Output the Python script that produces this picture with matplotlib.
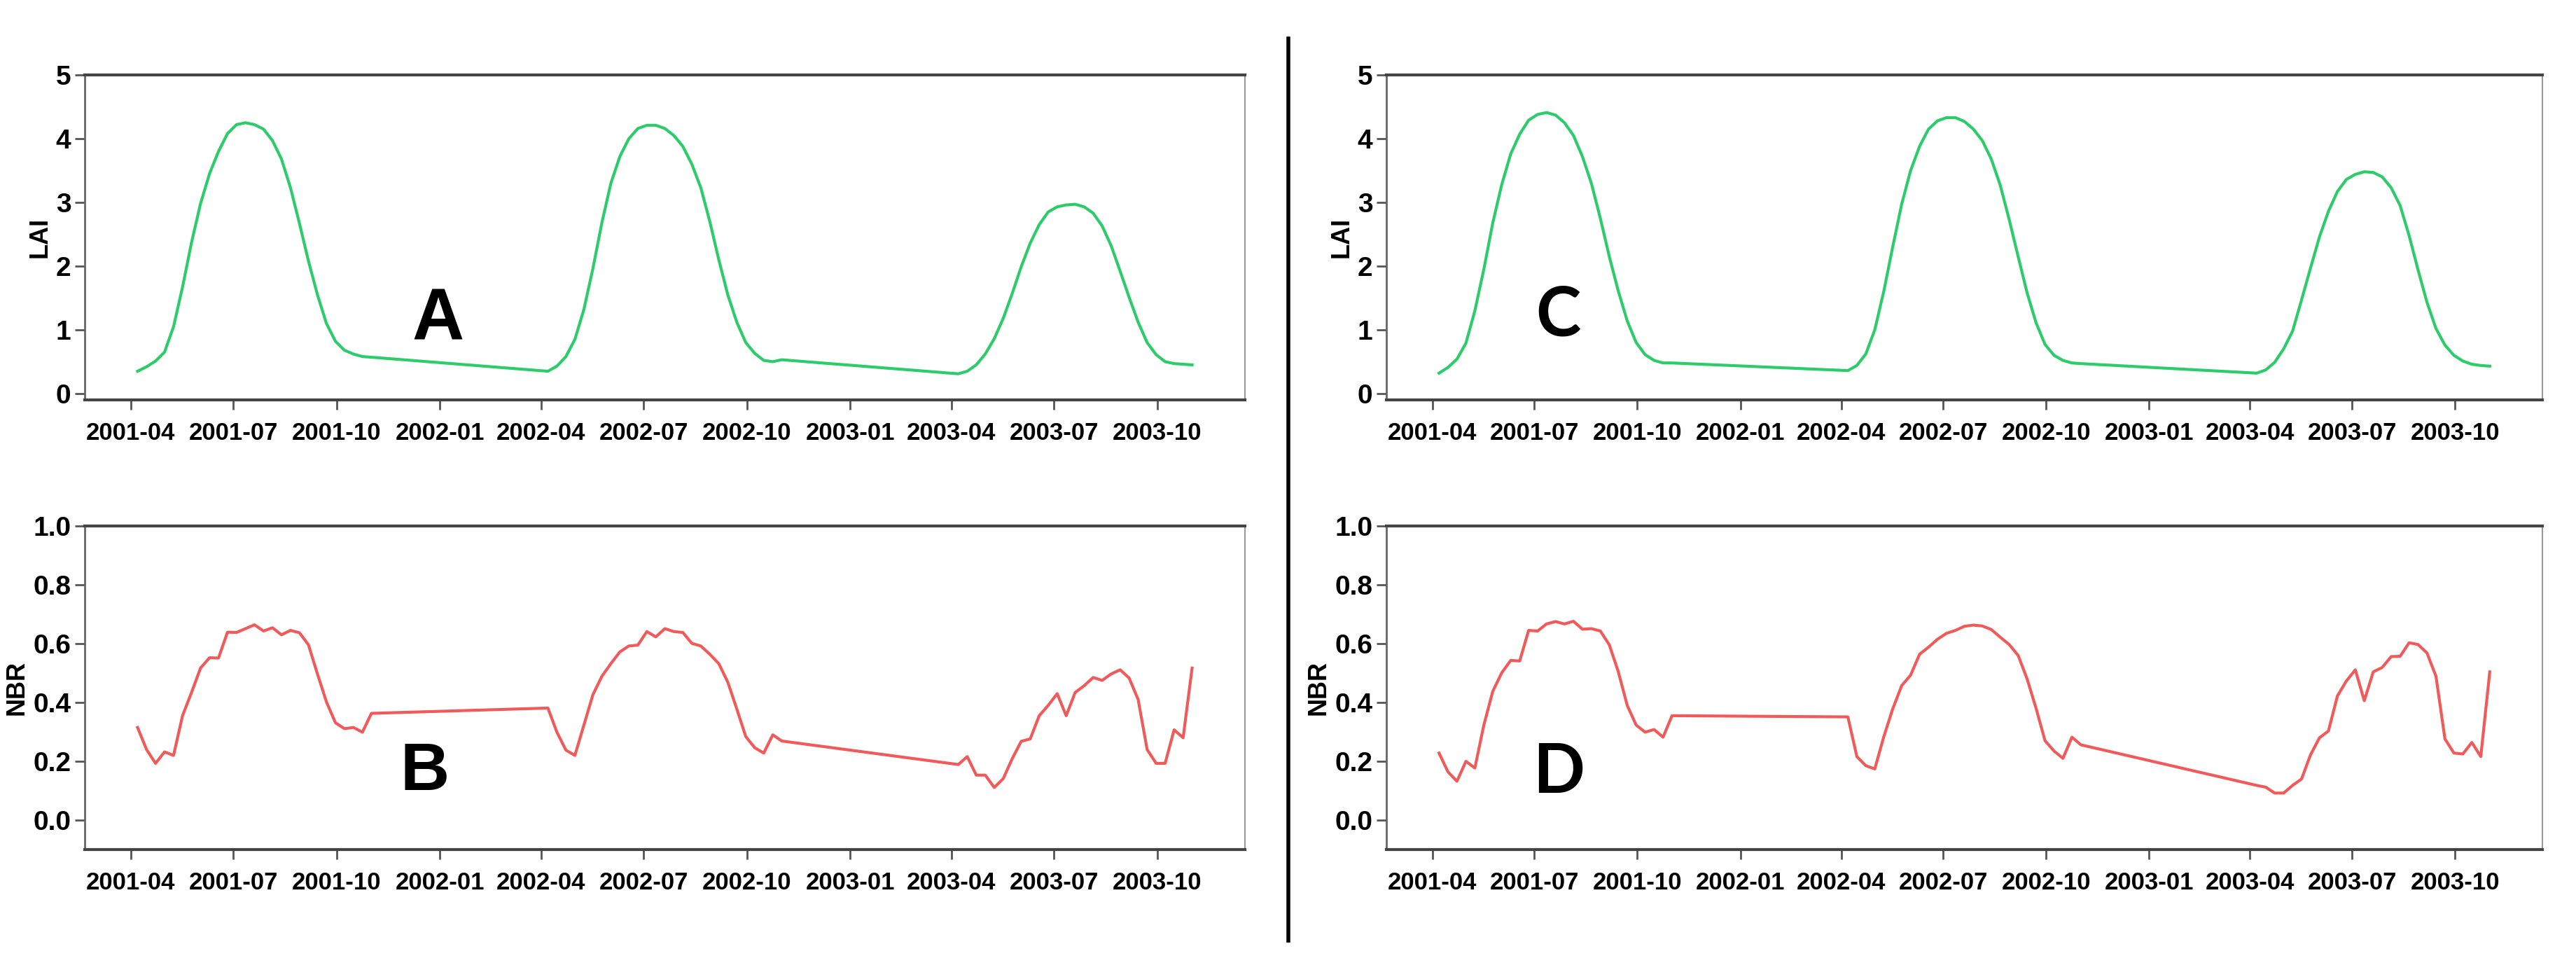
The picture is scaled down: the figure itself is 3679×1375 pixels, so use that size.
import numpy as np
import pandas as pd
import matplotlib
matplotlib.use('Agg')
import matplotlib.pyplot as plt
import matplotlib.dates as mdates
from matplotlib.lines import Line2D

# 8-day composite dates (day of year) for each growing season
years = [2001, 2002, 2003]
doy = [97, 105, 113, 121, 129, 137, 145, 153, 161, 169, 177, 185, 193, 201,
       209, 217, 225, 233, 241, 249, 257, 265, 273, 281, 289, 297, 305]

# LAI, panel A
lai_a_2001 = [0.35, 0.42, 0.51, 0.65, 1.05, 1.67, 2.37, 2.98, 3.45, 3.80, 4.08, 4.22, 4.25, 4.22,
              4.15, 3.97, 3.68, 3.23, 2.67, 2.08, 1.55, 1.10, 0.82, 0.68, 0.62, 0.58, 0.57]
lai_a_2002 = [0.35, 0.43, 0.58, 0.85, 1.32, 1.96, 2.68, 3.30, 3.72, 4.00, 4.16, 4.21, 4.21, 4.16,
              4.05, 3.88, 3.60, 3.23, 2.70, 2.10, 1.55, 1.12, 0.80, 0.63, 0.52, 0.50, 0.53]
lai_a_2003 = [0.31, 0.35, 0.45, 0.62, 0.86, 1.18, 1.57, 1.99, 2.36, 2.65, 2.85, 2.93, 2.96, 2.97,
              2.93, 2.83, 2.63, 2.32, 1.92, 1.51, 1.12, 0.80, 0.61, 0.50, 0.47, 0.46, 0.45]

# LAI, panel C
lai_c_2001 = [0.32, 0.41, 0.54, 0.79, 1.30, 1.95, 2.68, 3.28, 3.76, 4.07, 4.29, 4.38, 4.41, 4.37,
              4.25, 4.05, 3.72, 3.30, 2.75, 2.15, 1.61, 1.14, 0.80, 0.61, 0.52, 0.48, 0.48]
lai_c_2002 = [0.36, 0.44, 0.62, 1.00, 1.60, 2.30, 2.97, 3.50, 3.88, 4.15, 4.28, 4.33, 4.33, 4.27,
              4.15, 3.97, 3.68, 3.27, 2.73, 2.15, 1.58, 1.11, 0.77, 0.60, 0.52, 0.48, 0.47]
lai_c_2003 = [0.32, 0.37, 0.49, 0.70, 0.98, 1.47, 1.97, 2.46, 2.86, 3.17, 3.36, 3.44, 3.48, 3.47,
              3.40, 3.23, 2.95, 2.48, 1.94, 1.43, 1.02, 0.76, 0.60, 0.51, 0.46, 0.44, 0.43]

# NBR, panel B
nbr_b_2001 = [0.315, 0.24, 0.193, 0.232, 0.22, 0.355, 0.434, 0.517, 0.552, 0.551, 0.639, 0.638, 0.651, 0.664,
              0.643, 0.654, 0.63, 0.645, 0.637, 0.596, 0.497, 0.402, 0.331, 0.311, 0.315, 0.299, 0.363]
nbr_b_2002 = [0.381, 0.299, 0.238, 0.22, 0.323, 0.426, 0.489, 0.532, 0.572, 0.592, 0.595, 0.641, 0.623, 0.651,
              0.641, 0.638, 0.601, 0.592, 0.564, 0.532, 0.469, 0.378, 0.284, 0.246, 0.228, 0.29, 0.269]
nbr_b_2003 = [0.189, 0.216, 0.153, 0.153, 0.111, 0.141, 0.209, 0.268, 0.276, 0.355, 0.39, 0.43, 0.355, 0.434,
              0.457, 0.485, 0.475, 0.497, 0.511, 0.483, 0.41, 0.24, 0.193, 0.193, 0.307, 0.28, 0.517]

# NBR, panel D
nbr_d_2001 = [0.228, 0.164, 0.132, 0.2, 0.177, 0.323, 0.438, 0.501, 0.543, 0.541, 0.645, 0.643, 0.667, 0.675,
              0.667, 0.676, 0.649, 0.651, 0.643, 0.596, 0.505, 0.39, 0.323, 0.299, 0.308, 0.282, 0.355]
nbr_d_2002 = [0.351, 0.216, 0.185, 0.174, 0.283, 0.378, 0.457, 0.493, 0.564, 0.588, 0.615, 0.635, 0.645, 0.659,
              0.663, 0.66, 0.648, 0.622, 0.597, 0.56, 0.48, 0.38, 0.27, 0.235, 0.21, 0.282, 0.256]
nbr_d_2003 = [0.118, 0.112, 0.092, 0.092, 0.118, 0.14, 0.222, 0.28, 0.303, 0.422, 0.473, 0.511, 0.406, 0.504,
              0.519, 0.556, 0.557, 0.603, 0.597, 0.568, 0.489, 0.276, 0.228, 0.225, 0.264, 0.216, 0.504]

dates = pd.to_datetime([f'{y}-{d:03d}' for y in years for d in doy], format='%Y-%j')
lai_a = lai_a_2001 + lai_a_2002 + lai_a_2003
lai_c = lai_c_2001 + lai_c_2002 + lai_c_2003
nbr_b = nbr_b_2001 + nbr_b_2002 + nbr_b_2003
nbr_d = nbr_d_2001 + nbr_d_2002 + nbr_d_2003

green = '#2dcc6a'
red = '#f05a5a'
tick_font = ['Liberation Sans', 'DejaVu Sans']

W, H = 3680, 1375
fig = plt.figure(figsize=(W / 100, H / 100), dpi=100)


def px_axes(l, t, r, b):
    return fig.add_axes([l / W, 1 - b / H, (r - l) / W, (b - t) / H])


def style(ax, ylabel, yticks, yfmt):
    ax.set_xlim(pd.Timestamp('2001-02-19'), pd.Timestamp('2003-12-18'))
    ax.xaxis.set_major_locator(mdates.MonthLocator(bymonth=[1, 4, 7, 10]))
    ax.xaxis.set_major_formatter(mdates.DateFormatter('%Y-%m'))
    ax.set_yticks(yticks)
    ax.set_yticklabels([yfmt.format(v) for v in yticks])
    ax.tick_params(axis='both', direction='out', length=10, width=2, color='#555555')
    ax.tick_params(axis='x', pad=12)
    ax.tick_params(axis='y', pad=4)
    for lab in ax.get_xticklabels():
        lab.set_fontfamily(tick_font)
        lab.set_fontweight('bold')
        lab.set_fontsize(25)
    for lab in ax.get_yticklabels():
        lab.set_fontfamily(tick_font)
        lab.set_fontweight('bold')
        lab.set_fontsize(28)
    ax.set_ylabel(ylabel, fontsize=26, fontweight='bold',
                  family=['Liberation Sans', 'DejaVu Sans'], labelpad=4)
    ax.spines['top'].set_linewidth(3)
    ax.spines['top'].set_color('#444444')
    ax.spines['bottom'].set_linewidth(3)
    ax.spines['bottom'].set_color('#444444')
    ax.spines['left'].set_linewidth(2)
    ax.spines['left'].set_color('#666666')
    ax.spines['right'].set_linewidth(1.5)
    ax.spines['right'].set_color('#999999')


ax_a = px_axes(121, 107, 1778, 571)
ax_a.plot(dates, lai_a, color=green, linewidth=3)
ax_a.set_ylim(-0.1, 5)
style(ax_a, 'LAI', [0, 1, 2, 3, 4, 5], '{:.0f}')

ax_b = px_axes(121, 751, 1778, 1213)
ax_b.plot(dates, nbr_b, color=red, linewidth=3)
ax_b.set_ylim(-0.1, 1.0)
style(ax_b, 'NBR', [0, 0.2, 0.4, 0.6, 0.8, 1.0], '{:.1f}')

ax_c = px_axes(1980, 107, 3631, 571)
ax_c.plot(dates, lai_c, color=green, linewidth=3)
ax_c.set_ylim(-0.1, 5)
style(ax_c, 'LAI', [0, 1, 2, 3, 4, 5], '{:.0f}')

ax_d = px_axes(1980, 751, 3631, 1213)
ax_d.plot(dates, nbr_d, color=red, linewidth=3)
ax_d.set_ylim(-0.1, 1.0)
style(ax_d, 'NBR', [0, 0.2, 0.4, 0.6, 0.8, 1.0], '{:.1f}')

# panel letters
fig.text(626 / W, 1 - 458 / H, 'A', fontsize=74, fontweight='bold', family=tick_font,
         ha='center', va='center')
fig.text(607 / W, 1 - 1103 / H, 'B', fontsize=70, fontweight='bold', family=tick_font,
         ha='center', va='center')
fig.text(2225 / W, 1 - 451 / H, 'C', fontsize=70, fontweight='bold', family=['Lato', 'DejaVu Sans'],
         ha='center', va='center')
fig.text(2226 / W, 1 - 1103 / H, 'D', fontsize=70, fontweight='bold', family=['Lato', 'DejaVu Sans'],
         ha='center', va='center')

# vertical divider between the two columns
fig.add_artist(Line2D([1840 / W, 1840 / W], [1 - 55 / H, 1 - 1343 / H],
                      transform=fig.transFigure, color='black', linewidth=4))

fig.savefig('out.png', dpi=100)
